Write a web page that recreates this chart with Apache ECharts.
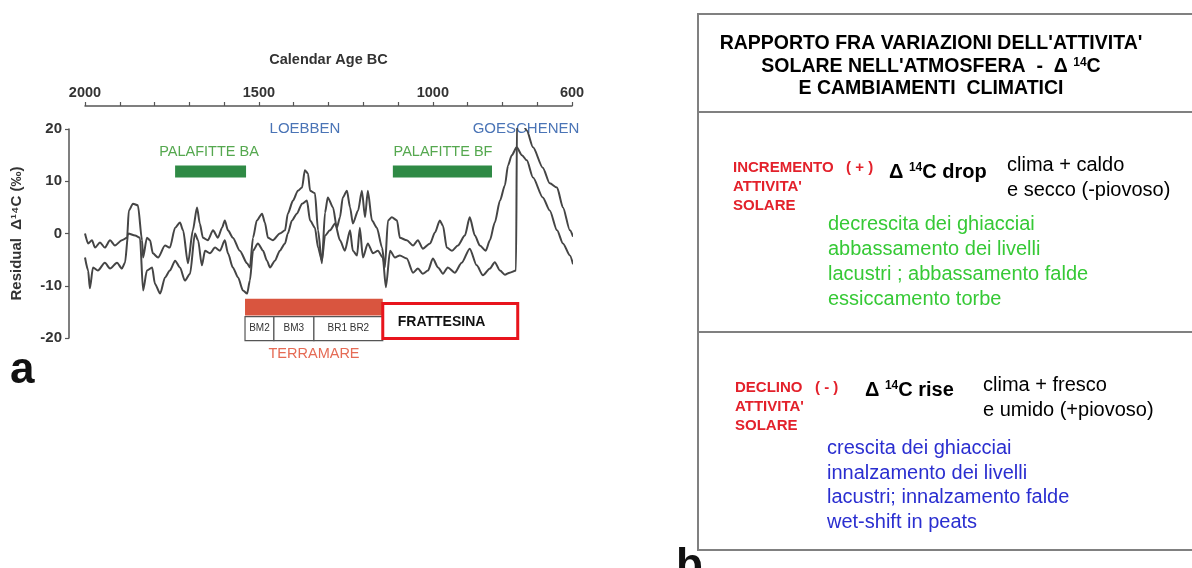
<!DOCTYPE html>
<html>
<head>
<meta charset="utf-8">
<script src="https://cdn.jsdelivr.net/npm/echarts@6/dist/echarts.min.js"></script>
<style>
html,body{margin:0;padding:0;background:#fff;}
#main{width:1192px;height:568px;}
</style>
</head>
<body>
<div id="main"></div>
<script>
// ---- Data ----
const yearsA = [2000,1991,1980,1971,1957,1943,1928,1914,1894,1879,1874,1862,1848,1836,1833,1822,1813,1805,1790,1770,1756,1741,1727,1718,1704,1690,1678,1670,1661,1647,1632,1618,1606,1598,1589,1575,1555,1534,1526,1517,1506,1491,1483,1474,1460,1440,1425,1417,1402,1388,1376,1368,1359,1353,1339,1330,1319,1310,1302,1287,1276,1267,1259,1247,1238,1230,1215,1204,1195,1187,1175,1161,1146,1138,1129,1118,1103,1095,1075,1057,1043,1029,1008,994,980,971,960,945,928,908,894,879,865,848,836,822,807,793,784,773,759,744,730,712,684,664,643,626,606,597];
const valuesA = [0,-1.9,-1.3,-2.7,-1.7,-2.7,-1.3,-2.3,-1.3,-0.8,4.4,5.7,5.4,-1.3,-4.6,-0.8,-1.3,-3.8,-4.6,-2.3,-2.7,1.1,2.1,0.6,-5.7,0.6,5.0,1.9,-0.8,-1.3,0.6,-0.8,1.1,2.5,0.6,-0.8,-3.3,-5.7,-6.5,-0.8,2.5,3.8,2.1,-0.8,-1.3,0,0.6,3.8,6.3,8.2,8.8,12.1,11.5,8.2,7.7,0.6,-5.7,4.0,6.9,5.0,1.1,3.1,6.9,8.2,5.0,1.9,4.4,8.2,3.1,8.2,2.5,1.1,-2.7,-6.5,2.5,3.1,2.5,-0.8,-1.3,-2.3,-1.3,-2.9,-1.9,0.2,2.5,1.5,-2.7,-3.3,-2.3,-0.4,3.1,-0.4,-2.3,-3.3,-1.3,2.1,6.3,9.2,13.0,15.0,16.5,15.0,14.0,10.7,6.9,4.4,0.6,-1.9,-4.2,-5.9];

const yearsB = [2000,1991,1986,1977,1963,1943,1928,1908,1894,1885,1876,1856,1842,1833,1822,1807,1799,1784,1770,1756,1741,1727,1713,1698,1684,1675,1664,1655,1641,1626,1612,1598,1589,1575,1560,1546,1534,1526,1517,1503,1488,1477,1468,1454,1440,1425,1417,1405,1391,1376,1362,1353,1339,1330,1319,1310,1296,1281,1267,1253,1238,1230,1218,1210,1201,1187,1172,1158,1144,1135,1123,1109,1095,1075,1057,1043,1029,1014,1000,985,971,957,937,917,894,874,856,836,822,807,793,779,761,758,744,730,712,684,664,643,626,606,597];
const valuesB = [-4.6,-7.1,-10.5,-6.5,-7.1,-5.6,-6.7,-5.6,-6.7,-5.6,0,-0.4,-0.8,-10.9,-7.1,-6.5,-9.6,-11.5,-8.4,-7.1,-5.2,-6.5,-9.0,-7.7,0,-1.3,-6.1,-3.3,-3.8,-2.7,-3.3,-1.3,-3.8,-6.5,-8.4,-10.9,-11.5,-9.0,-3.3,-1.9,-3.3,-5.2,-6.5,-5.2,-3.3,-1.9,0,2.5,3.8,5.7,6.3,2.5,1.1,-2.7,-5.2,-0.4,0.6,1.9,-1.3,-3.3,0.6,-3.3,-4.2,1.1,-4.6,-1.9,-3.8,-3.3,-4.6,-10.3,-3.3,-4.6,-4.2,-4.8,-7.5,-6.7,-7.7,-7.1,-4.8,-6.5,-7.7,-6.5,-7.5,-5.6,-2.9,-6.1,-8.0,-6.7,-5.5,-7.1,-7.9,-7.5,-7.1,22.6,21.3,19.7,16.5,12.6,9.6,8.8,5.0,0.6,-0.6];

const xTickLabels = [2000, 1500, 1000, 600];

// cultural periods (years BC)
const palafitteNames = ['PALAFITTE BA', 'PALAFITTE BF'];
const palafitteStart = [1741, 1115];
const palafitteEnd = [1537, 830];
const terramareStart = 1540, terramareEnd = 1144;
const phaseNames = ['BM2', 'BM3', 'BR1 BR2'];
const phaseStart = [1540, 1457, 1342];
const phaseEnd = [1457, 1342, 1144];
const frattesinaStart = 1144, frattesinaEnd = 756;

// ---- Chart ----
const FONT = '"Liberation Sans", Arial, Helvetica, sans-serif';
const chart = echarts.init(document.getElementById('main'), null, {renderer: 'canvas'});

const items = [];
palafitteStart.forEach((s, i) => items.push({kind: 'palafitte', s, e: palafitteEnd[i]}));
items.push({kind: 'terramare', s: terramareStart, e: terramareEnd});
phaseStart.forEach((s, i) => items.push({kind: 'phase', s, e: phaseEnd[i], label: phaseNames[i]}));
items.push({kind: 'frattesina', s: frattesinaStart, e: frattesinaEnd, label: 'FRATTESINA'});

function renderBand(params, api) {
  const it = items[params.dataIndex];
  const ranges = {palafitte: [10.7, 13.0], terramare: [-15.7, -12.5], phase: [-20.5, -15.9], frattesina: [-20.1, -13.4]};
  const r = ranges[it.kind];
  const p1 = api.coord([it.s, r[1]]);
  const p2 = api.coord([it.e, r[0]]);
  const x = Math.min(p1[0], p2[0]), w = Math.abs(p2[0] - p1[0]);
  const y = Math.min(p1[1], p2[1]), h = Math.abs(p2[1] - p1[1]);
  if (it.kind === 'palafitte') {
    return {type: 'rect', shape: {x, y, width: w, height: h}, style: {fill: '#2f8a45'}};
  }
  if (it.kind === 'terramare') {
    return {type: 'rect', shape: {x, y, width: w, height: h}, style: {fill: '#d9553f'}};
  }
  if (it.kind === 'phase') {
    return {type: 'group', children: [
      {type: 'rect', shape: {x, y, width: w, height: h}, style: {fill: '#fff', stroke: '#555', lineWidth: 1.2}},
      {type: 'text', x: x + w / 2, y: y + h / 2, style: {text: it.label, fill: '#333', font: '10px ' + FONT, textAlign: 'center', textVerticalAlign: 'middle'}}
    ]};
  }
  return {type: 'group', children: [
    {type: 'rect', shape: {x, y, width: w, height: h}, style: {fill: '#fff', stroke: '#e8141c', lineWidth: 3}},
    {type: 'text', x: x + 15, y: y + h / 2 + 1, style: {text: it.label, fill: '#111', font: 'bold 14px ' + FONT, textAlign: 'left', textVerticalAlign: 'middle'}}
  ]};
}

function T(x, y, text, o) {
  o = o || {};
  return {
    type: 'text', x, y, z: o.z || 5,
    style: {
      text,
      fill: o.color || '#000',
      fontSize: o.size || 20,
      fontWeight: o.weight || 'normal',
      fontFamily: FONT,
      textAlign: o.align || 'left',
      textVerticalAlign: o.valign || 'middle',
      rich: o.rich
    }
  };
}
function L(x1, y1, x2, y2) {
  return {type: 'line', shape: {x1, y1, x2, y2}, style: {stroke: '#808080', lineWidth: 2}, z: 5};
}
function supRich(size) {
  return {
    m: {fontSize: size, fontWeight: 'bold', fontFamily: FONT, fill: '#000', verticalAlign: 'middle'},
    s: {fontSize: Math.round(size * 0.62), fontWeight: 'bold', fontFamily: FONT, fill: '#000', verticalAlign: 'top'}
  };
}

const RED = '#e3212b', GREEN = '#36c936', BLUE = '#2a2ed0';

const graphics = [
  // left panel annotations
  T(305, 129, 'LOEBBEN', {color: '#4a74b6', size: 15, align: 'center', z: 1}),
  T(526, 129, 'GOESCHENEN', {color: '#4a74b6', size: 15, align: 'center', z: 1}),
  T(209, 152, palafitteNames[0], {color: '#55a84f', size: 14.5, align: 'center', z: 1}),
  T(443, 152, palafitteNames[1], {color: '#55a84f', size: 14.5, align: 'center', z: 1}),
  T(314, 354, 'TERRAMARE', {color: '#e56b55', size: 14.5, align: 'center', z: 1}),
  T(10, 371, 'a', {size: 44, weight: 'bold', color: '#111'}),
  // right panel frame
  L(698, 14, 1192, 14), L(698, 13, 698, 551), L(698, 112, 1192, 112), L(698, 332, 1192, 332), L(698, 550, 1192, 550),
  T(931, 44, "RAPPORTO FRA VARIAZIONI DELL'ATTIVITA'", {size: 19.5, weight: 'bold', align: 'center'}),
  T(931, 67, "{m|SOLARE NELL'ATMOSFERA  -  Δ }{s|14}{m|C}", {size: 19.5, weight: 'bold', align: 'center', rich: supRich(19.5)}),
  T(931, 89, 'E CAMBIAMENTI  CLIMATICI', {size: 19.5, weight: 'bold', align: 'center'}),
  // section 1
  T(733, 168, 'INCREMENTO   ( + )', {size: 15, weight: 'bold', color: RED}),
  T(733, 187, "ATTIVITA'", {size: 15, weight: 'bold', color: RED}),
  T(733, 206, 'SOLARE', {size: 15, weight: 'bold', color: RED}),
  T(889, 172, '{m|Δ }{s|14}{m|C drop}', {size: 20, weight: 'bold', rich: supRich(20)}),
  T(1007, 165, 'clima + caldo', {size: 20}),
  T(1007, 190, 'e secco (-piovoso)', {size: 20}),
  T(828, 224, 'decrescita dei ghiacciai', {size: 20, color: GREEN}),
  T(828, 249, 'abbassamento dei livelli', {size: 20, color: GREEN}),
  T(828, 274, 'lacustri ; abbassamento falde', {size: 20, color: GREEN}),
  T(828, 299, 'essiccamento torbe', {size: 20, color: GREEN}),
  // section 2
  T(735, 388, 'DECLINO   ( - )', {size: 15, weight: 'bold', color: RED}),
  T(735, 407, "ATTIVITA'", {size: 15, weight: 'bold', color: RED}),
  T(735, 426, 'SOLARE', {size: 15, weight: 'bold', color: RED}),
  T(865, 390, '{m|Δ }{s|14}{m|C rise}', {size: 20, weight: 'bold', rich: supRich(20)}),
  T(983, 385, 'clima + fresco', {size: 20}),
  T(983, 410, 'e umido (+piovoso)', {size: 20}),
  T(827, 448, 'crescita dei ghiacciai', {size: 20, color: BLUE}),
  T(827, 473, 'innalzamento dei livelli', {size: 20, color: BLUE}),
  T(827, 497, 'lacustri; innalzamento falde', {size: 20, color: BLUE}),
  T(827, 522, 'wet-shift in peats', {size: 20, color: BLUE}),
  T(676, 567, 'b', {size: 44, weight: 'bold', color: '#111'})
];

const option = {
  animation: false,
  backgroundColor: '#fff',
  grid: {left: 85, right: 620, top: 129, bottom: 230, containLabel: false},
  xAxis: {
    type: 'value', position: 'top', inverse: true,
    min: 600, max: 2000, interval: 100, offset: 23,
    name: 'Calendar Age BC', nameLocation: 'middle', nameGap: 39,
    nameTextStyle: {fontSize: 14.5, fontWeight: 'bold', color: '#333', fontFamily: FONT},
    axisLine: {onZero: false, lineStyle: {color: '#555', width: 1.5}},
    axisTick: {length: 4, lineStyle: {color: '#555', width: 1.2}},
    axisLabel: {
      margin: 6, fontSize: 14.5, fontWeight: 'bold', color: '#333', fontFamily: FONT,
      formatter: v => xTickLabels.includes(v) ? String(v) : ''
    },
    splitLine: {show: false}
  },
  yAxis: {
    type: 'value', min: -20, max: 20, interval: 10, offset: 16,
    name: 'Residual  Δ¹⁴C (‰)', nameLocation: 'middle', nameRotate: 90, nameGap: 45,
    nameTextStyle: {fontSize: 15, fontWeight: 'bold', color: '#333', fontFamily: FONT},
    axisLine: {show: true, onZero: false, lineStyle: {color: '#555', width: 1.5}},
    axisTick: {show: true, length: 4, lineStyle: {color: '#555', width: 1.2}},
    axisLabel: {margin: 7, fontSize: 15, fontWeight: 'bold', color: '#333', fontFamily: FONT},
    splitLine: {show: false}
  },
  series: [
    {
      type: 'line', name: 'A', data: yearsA.map((y, i) => [y, valuesA[i]]),
      showSymbol: false, smooth: 0.25, smoothMonotone: 'x', z: 3,
      lineStyle: {color: '#454545', width: 2}
    },
    {
      type: 'line', name: 'B', data: yearsB.map((y, i) => [y, valuesB[i]]),
      showSymbol: false, smooth: 0.25, smoothMonotone: 'x', z: 3,
      lineStyle: {color: '#454545', width: 2}
    },
    {
      type: 'custom', name: 'periods', clip: false, z: 2,
      data: items.map((it, i) => [it.s, 0, i]),
      encode: {x: 0, y: 1},
      renderItem: renderBand
    }
  ],
  graphic: graphics
};
chart.setOption(option);
</script>
</body>
</html>
